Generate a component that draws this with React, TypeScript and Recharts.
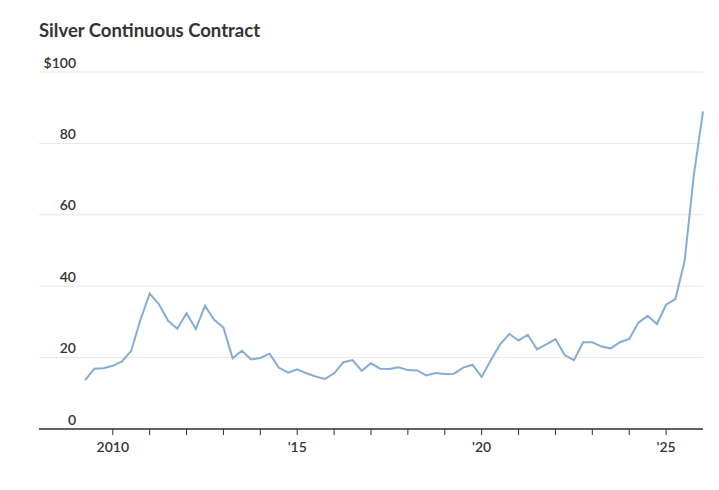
import React from 'react';
import { LineChart, Line, XAxis, YAxis, CartesianGrid } from 'recharts';

// Quarter start positions (decimal years) and the contract price in USD
const quarters = [
  2009.25, 2009.5, 2009.75,
  2010.0, 2010.25, 2010.5, 2010.75,
  2011.0, 2011.25, 2011.5, 2011.75,
  2012.0, 2012.25, 2012.5, 2012.75,
  2013.0, 2013.25, 2013.5, 2013.75,
  2014.0, 2014.25, 2014.5, 2014.75,
  2015.0, 2015.25, 2015.5, 2015.75,
  2016.0, 2016.25, 2016.5, 2016.75,
  2017.0, 2017.25, 2017.5, 2017.75,
  2018.0, 2018.25, 2018.5, 2018.75,
  2019.0, 2019.25, 2019.5, 2019.75,
  2020.0, 2020.25, 2020.5, 2020.75,
  2021.0, 2021.25, 2021.5, 2021.75,
  2022.0, 2022.25, 2022.5, 2022.75,
  2023.0, 2023.25, 2023.5, 2023.75,
  2024.0, 2024.25, 2024.5, 2024.75,
  2025.0, 2025.25, 2025.5, 2025.75,
  2026.0,
];

const prices = [
  13.7, 16.9, 17.0,
  17.7, 18.9, 21.9, 30.6,
  37.9, 35.0, 30.3, 28.1,
  32.4, 28.0, 34.5, 30.6,
  28.4, 19.8, 21.9, 19.5,
  19.9, 21.1, 17.2, 15.8,
  16.7, 15.6, 14.7, 14.0,
  15.6, 18.7, 19.3, 16.3,
  18.4, 16.9, 16.8, 17.3,
  16.5, 16.4, 15.0, 15.7,
  15.4, 15.5, 17.2, 18.0,
  14.6, 19.3, 23.7, 26.6,
  24.8, 26.4, 22.3, 23.7,
  25.2, 20.7, 19.3, 24.3,
  24.3, 23.1, 22.6, 24.3,
  25.2, 29.8, 31.7, 29.4,
  34.8, 36.4, 46.9, 71.0,
  89.0,
];

const yearTicks = [2010, 2011, 2012, 2013, 2014, 2015, 2016, 2017, 2018, 2019, 2020, 2021, 2022, 2023, 2024, 2025];
const yearLabels: Record<number, string> = { 2010: '2010', 2015: "'15", 2020: "'20", 2025: "'25" };
const priceTicks = [0, 20, 40, 60, 80, 100];

const data = quarters.map((t, i) => ({ t, price: prices[i] }));

const FONT = 'Lato, "Noto Sans", sans-serif';

// labels sit above their gridline, right-aligned
const renderPriceTick = (props: any) => {
  const { y, payload } = props;
  const label = payload.value === 100 ? '$100' : String(payload.value);
  return (
    <text x={76} y={y - 4.5} textAnchor="end" fill="#333" fontSize={14} fontWeight={600} fontFamily={FONT}>
      {label}
    </text>
  );
};

const App: React.FC = () => {
  return (
    <div style={{ position: 'absolute', left: 0, top: 0, width: 719, height: 490, background: '#fff', fontFamily: FONT }}>
      <div style={{ position: 'absolute', left: 39, top: 19, fontSize: 18.5, fontWeight: 700, color: '#333' }}>
        Silver Continuous Contract
      </div>
      <LineChart width={719} height={490} data={data} margin={{ top: 72, right: 16, bottom: 31, left: 2 }}>
        <CartesianGrid vertical={false} stroke="#e6e6e6" />
        <XAxis
          dataKey="t"
          type="number"
          domain={[2008, 2026]}
          ticks={yearTicks}
          interval={0}
          tickFormatter={(v: number) => yearLabels[v] || ''}
          axisLine={{ stroke: '#333', strokeWidth: 1.5 }}
          tickLine={{ stroke: '#333' }}
          tickSize={6}
          tickMargin={7}
          height={30}
          tick={{ fill: '#333', fontSize: 14, fontWeight: 600, fontFamily: FONT }}
        />
        <YAxis
          type="number"
          domain={[0, 100]}
          ticks={priceTicks}
          width={37}
          axisLine={false}
          tickLine={false}
          tick={renderPriceTick}
        />
        <Line
          type="linear"
          dataKey="price"
          stroke="#84acd7"
          strokeWidth={2}
          dot={false}
          isAnimationActive={false}
        />
      </LineChart>
    </div>
  );
};

export default App;
